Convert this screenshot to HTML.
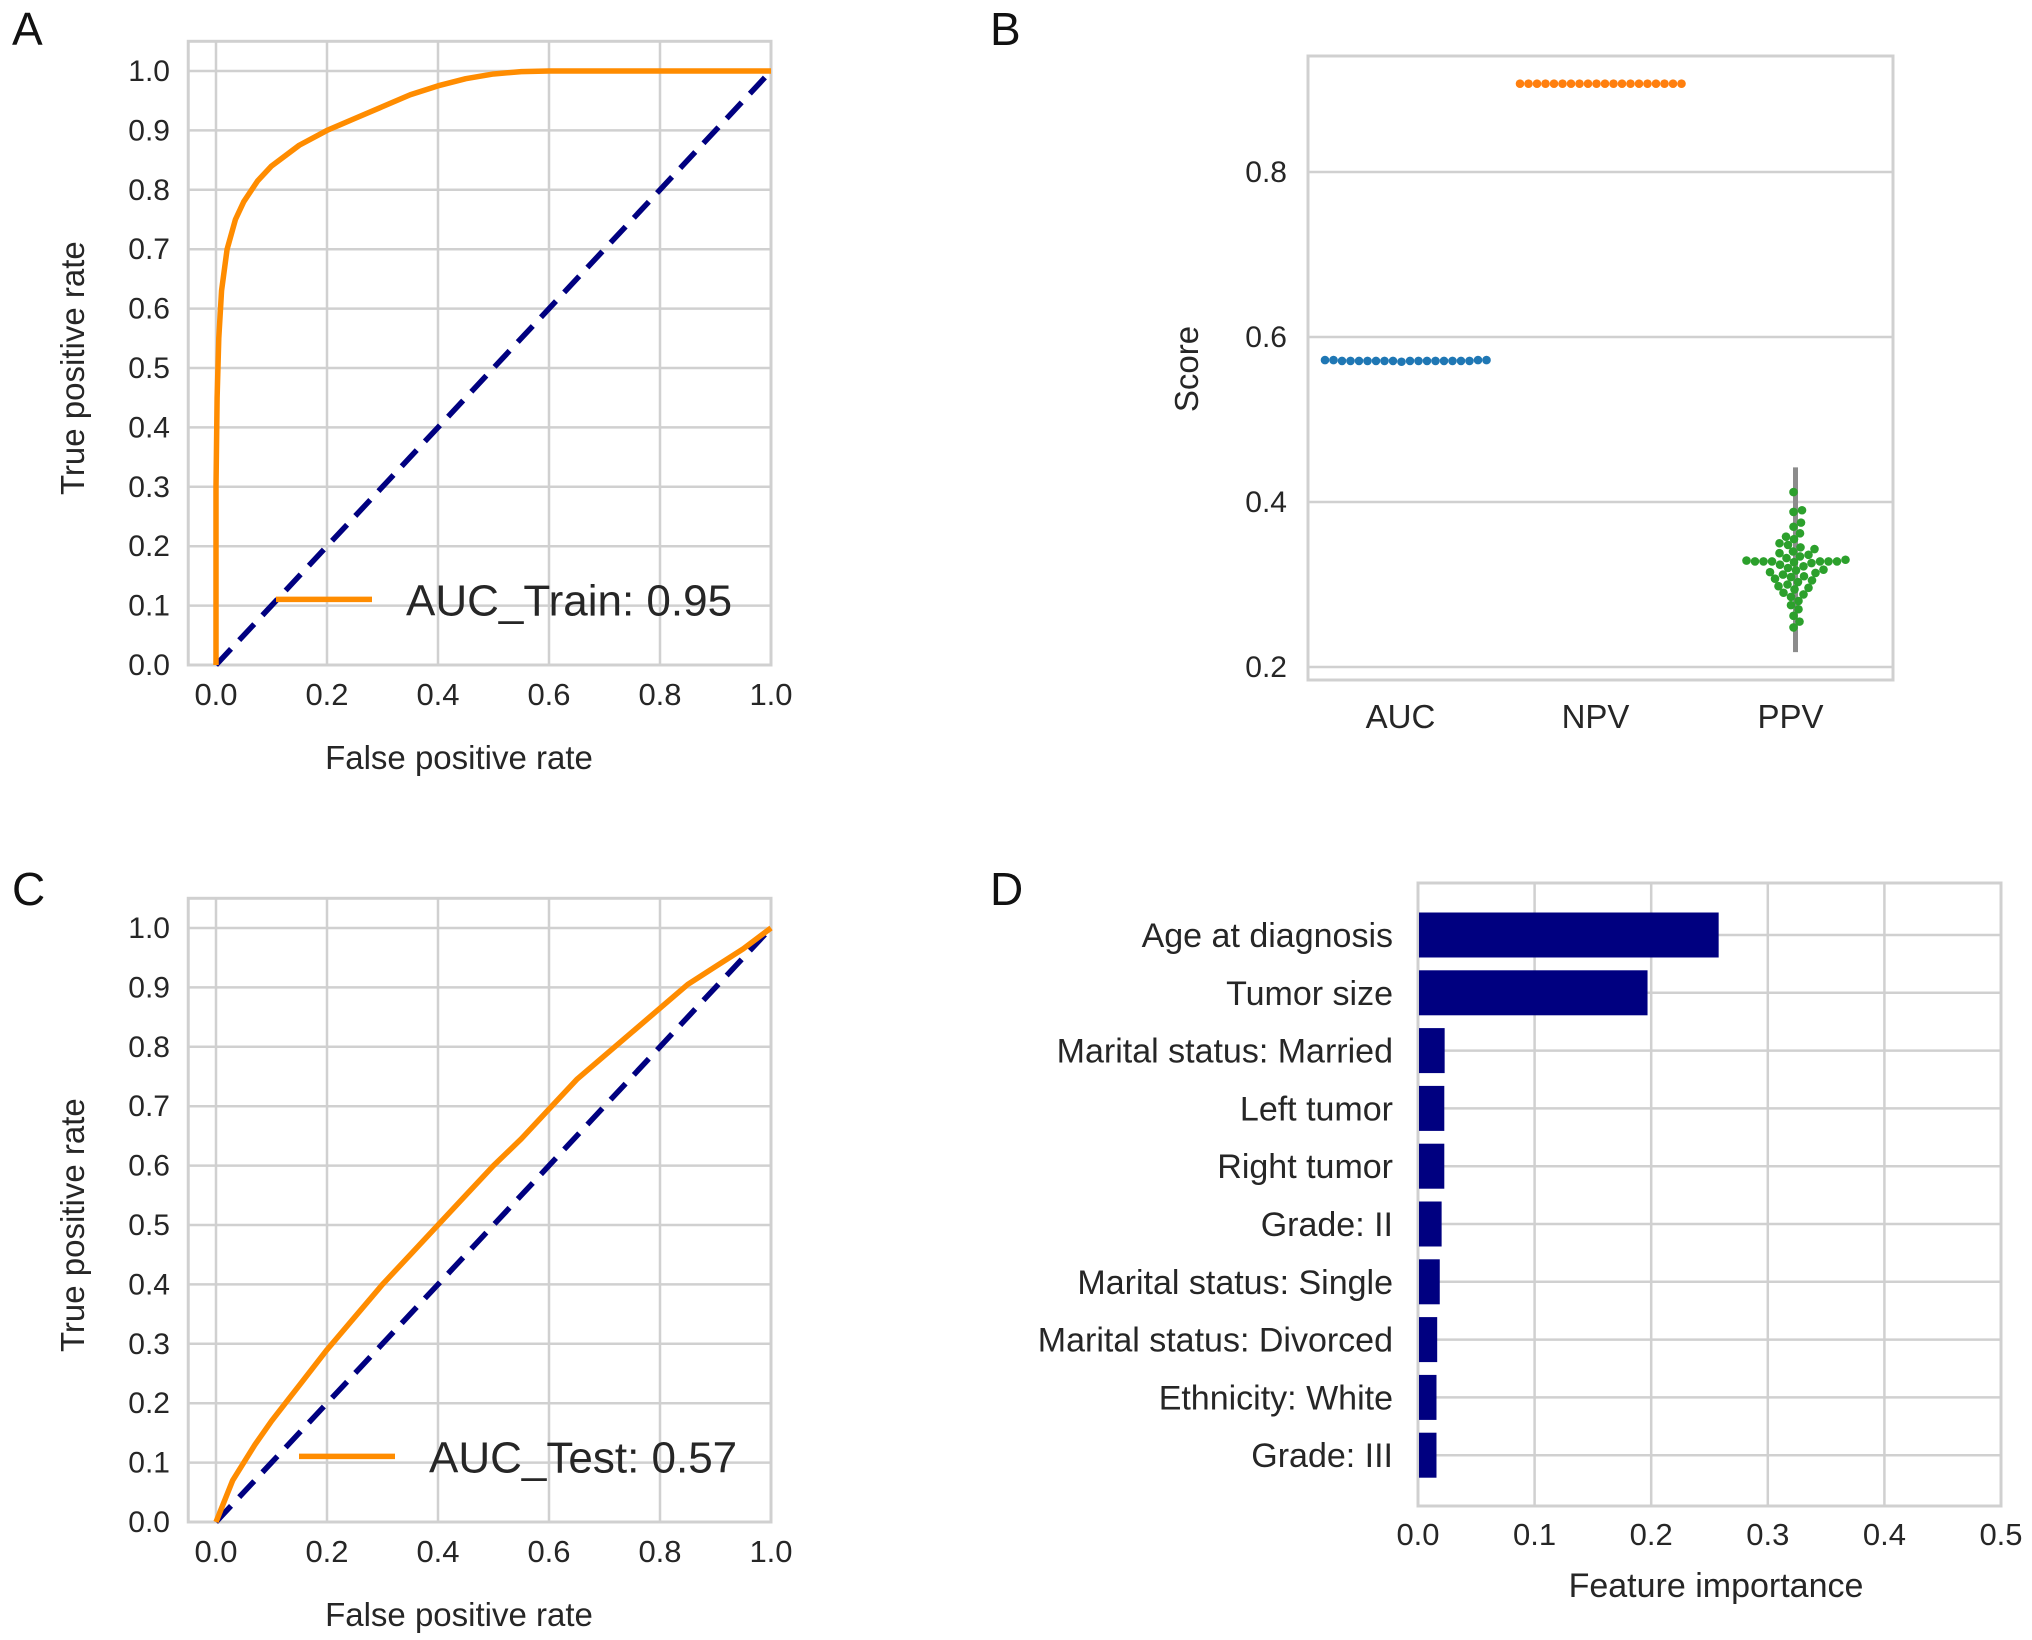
<!DOCTYPE html>
<html><head><meta charset="utf-8"><style>
html,body{margin:0;padding:0;background:#fff;}
svg{display:block;font-family:"Liberation Sans",Arial,sans-serif;}
</style></head><body>
<svg id="fig" width="2032" height="1640" viewBox="0 0 2032 1640" xmlns="http://www.w3.org/2000/svg">
<rect width="2032" height="1640" fill="#fff"/>
</svg>
<script>
// ---- Panel A data
const trainFpr=[0,0,0.002,0.005,0.01,0.02,0.035,0.05,0.075,0.1,0.15,0.2,0.25,0.3,0.35,0.4,0.45,0.5,0.55,0.6,1.0];
const trainTpr=[0,0.3,0.45,0.55,0.63,0.7,0.75,0.78,0.815,0.84,0.875,0.9,0.92,0.94,0.96,0.975,0.987,0.995,0.999,1.0,1.0];
// ---- Panel C data
const testFpr=[0,0.03,0.07,0.1,0.15,0.2,0.25,0.3,0.35,0.4,0.45,0.5,0.55,0.6,0.65,0.7,0.75,0.8,0.85,0.9,0.95,1.0];
const testTpr=[0,0.07,0.13,0.17,0.23,0.29,0.345,0.4,0.45,0.5,0.55,0.6,0.645,0.695,0.745,0.785,0.825,0.865,0.905,0.935,0.965,1.0];
const rocTicks=["0.0","0.1","0.2","0.3","0.4","0.5","0.6","0.7","0.8","0.9","1.0"];
const rocXTicks=["0.0","0.2","0.4","0.6","0.8","1.0"];
// ---- Panel B data
const scoreCats=["AUC","NPV","PPV"];
const aucScores=[0.572,0.572,0.571,0.571,0.571,0.571,0.571,0.571,0.571,0.570,0.571,0.571,0.571,0.571,0.571,0.571,0.571,0.571,0.572,0.572];
const npvScores=[0.907,0.907,0.907,0.907,0.907,0.907,0.907,0.907,0.907,0.907,0.907,0.907,0.907,0.907,0.907,0.907,0.907,0.907,0.907,0.907];
const ppvScores=[0.412,0.39,0.388,0.375,0.37,0.362,0.358,0.355,0.35,0.348,0.345,0.343,0.34,0.338,0.336,0.334,0.332,0.33,0.329,0.328,0.328,0.328,0.328,0.328,0.328,0.327,0.326,0.324,0.322,0.32,0.318,0.317,0.315,0.314,0.312,0.31,0.309,0.307,0.305,0.303,0.30,0.298,0.296,0.294,0.29,0.288,0.285,0.28,0.275,0.27,0.262,0.255,0.248];
const ppvWhisker=[0.218,0.442];
const scoreTicks=["0.2","0.4","0.6","0.8"];
// ---- Panel D data
const features=["Age at diagnosis","Tumor size","Marital status: Married","Left tumor","Right tumor","Grade: II","Marital status: Single","Marital status: Divorced","Ethnicity: White","Grade: III"];
const importances=[0.257,0.196,0.022,0.0217,0.0217,0.0194,0.0178,0.0156,0.015,0.015];
const impTicks=["0.0","0.1","0.2","0.3","0.4","0.5"];

const NS="http://www.w3.org/2000/svg";
const svg=document.getElementById('fig');
function mk(tag,attrs,parent){const e=document.createElementNS(NS,tag);for(const k in attrs)e.setAttribute(k,attrs[k]);(parent||svg).appendChild(e);return e;}
function txt(s,attrs,parent){const e=mk('text',attrs,parent);e.textContent=s;return e;}
const GRID="#d0d0d0", TXT="#262626";

function panelLetter(s,x,y){const t=txt(s,{x:x,y:y,'font-size':46,fill:'#111'});

}
panelLetter('A',12,45);panelLetter('B',990,45);panelLetter('C',12,905);panelLetter('D',990,905);

function rocPanel(id,top,fpr,tpr,legendText){
  const g=mk('g',{});
  
  
  const x0=216,x1=771,y0=top+624,y1=top+30;
  const sx=v=>x0+(x1-x0)*v, sy=v=>y0-(y0-y1)*v;
  const L=sx(-0.05),R=sx(1.0),T=sy(1.05),B=sy(0);
  rocTicks.forEach((t,i)=>{const v=i/10;const y=sy(v);
    const l=mk('line',{x1:L,x2:R,y1:y,y2:y,stroke:GRID,'stroke-width':2.5},g);
    
    const tt=txt(t,{x:170,y:y+10,'font-size':30,'text-anchor':'end',fill:TXT},g);
    });
  rocXTicks.forEach((t,i)=>{const v=i*0.2;const x=sx(v);
    const l=mk('line',{x1:x,x2:x,y1:T,y2:B,stroke:GRID,'stroke-width':2.5},g);
    
    const tt=txt(t,{x:x,y:B+40,'font-size':31,'text-anchor':'middle',fill:TXT},g);
    });
  const fr=mk('rect',{x:L,y:T,width:R-L,height:B-T,fill:'none',stroke:GRID,'stroke-width':3},g);
  
  const d=mk('line',{x1:sx(0),y1:sy(0),x2:sx(1),y2:sy(1),stroke:'#000080','stroke-width':5.5,'stroke-dasharray':'22,12'},g);
  
  const p=mk('polyline',{points:fpr.map((f,i)=>sx(f)+','+sy(tpr[i])).join(' '),fill:'none',stroke:'#ff8c00','stroke-width':5.5,'stroke-linejoin':'round'},g);
  
  const lg=mk('g',{},g);
  
  const ly=sy(0.097)-8;
  const lx=legendText.indexOf('Train')>=0?276:299;
  mk('line',{x1:lx,x2:lx+96,y1:ly,y2:ly,stroke:'#ff8c00','stroke-width':5.5},lg);
  txt(legendText,{x:lx+130,y:ly+16,'font-size':44,fill:TXT},lg);
  const xt=txt('False positive rate',{x:459,y:B+104,'font-size':33,'text-anchor':'middle',fill:TXT},g);
  
  const cy=(T+B)/2+15;
  const yt=txt('True positive rate',{x:84,y:cy,'font-size':33,'text-anchor':'middle',fill:TXT,transform:'rotate(-90 84 '+cy+')'},g);
  
}
rocPanel('roc-train-chart',41,trainFpr,trainTpr,'AUC_Train: 0.95');
rocPanel('roc-test-chart',898,testFpr,testTpr,'AUC_Test: 0.57');

// ---- Panel B
(function(){
  const g=mk('g',{});
  
  
  const L=1308,R=1893,T=56,B=680;
  const sy=v=>337-(v-0.6)*825;
  const sx=i=>L+(R-L)*(i+0.5)/3;
  scoreTicks.forEach(t=>{const y=sy(parseFloat(t));
    const l=mk('line',{x1:L,x2:R,y1:y,y2:y,stroke:GRID,'stroke-width':2.5},g);
    
    const tt=txt(t,{x:1287,y:y+10,'font-size':30,'text-anchor':'end',fill:TXT},g);
    });
  const fr=mk('rect',{x:L,y:T,width:R-L,height:B-T,fill:'none',stroke:GRID,'stroke-width':3},g);
  
  scoreCats.forEach((c,i)=>{const tt=txt(c,{x:sx(i)-5,y:728,'font-size':33,'text-anchor':'middle',fill:TXT},g);
    });
  const yt=txt('Score',{x:1198,y:369,'font-size':33,'text-anchor':'middle',fill:TXT,transform:'rotate(-90 1198 369)'},g);
  
  const wl=mk('line',{x1:sx(2),x2:sx(2),y1:sy(ppvWhisker[0]),y2:sy(ppvWhisker[1]),stroke:'#8c8c8c','stroke-width':5},g);
  
  const D=8.2,r=4.3;
  function swarm(vals,i,color,name,shift){
    const cx=sx(i)+shift;const placed=[];
    const order=vals.map((v,k)=>k).sort((a,b)=>vals[a]-vals[b]);
    order.forEach(k=>{const y=sy(vals[k]);let x=cx;
      for(let s=0;s<400;s++){const off=(s%2?1:-1)*Math.ceil(s/2)*0.5;x=cx+off;
        if(placed.every(p=>Math.hypot(p[0]-x,p[1]-y)>=D))break;}
      placed.push([x,y]);
      const c=mk('circle',{cx:x,cy:y,r:r,fill:color},g);
      
      });
  }
  swarm(aucScores,0,'#1f77b4','auc-point',-4);
  swarm(npvScores,1,'#ff7f0e','npv-point',-4);
  swarm(ppvScores,2,'#2ca02c','ppv-point',-2);
})();

// ---- Panel D
(function(){
  const g=mk('g',{});
  
  
  const L=1418,R=2001,T=883,B=1506;
  const sx=v=>L+(R-L)*v/0.5;
  const step=57.8, first=935;
  const sy=i=>first+i*step;
  impTicks.forEach(t=>{const x=sx(parseFloat(t));
    const l=mk('line',{x1:x,x2:x,y1:T,y2:B,stroke:GRID,'stroke-width':2.5},g);
    
    const tt=txt(t,{x:x,y:1545,'font-size':31,'text-anchor':'middle',fill:TXT},g);
    });
  features.forEach((f,i)=>{const y=sy(i);
    const l=mk('line',{x1:L,x2:R,y1:y,y2:y,stroke:GRID,'stroke-width':2.5},g);
    });
  const fr=mk('rect',{x:L,y:T,width:R-L,height:B-T,fill:'none',stroke:GRID,'stroke-width':3},g);
  
  features.forEach((f,i)=>{const y=sy(i);
    const b=mk('rect',{x:sx(0)+1,y:y-22.5,width:sx(importances[i])-sx(0),height:45,fill:'#000080'},g);
    
    const tt=txt(f,{x:1393,y:y+12,'font-size':34,'text-anchor':'end',fill:TXT},g);
    });
  const xt=txt('Feature importance',{x:1716,y:1597,'font-size':34,'text-anchor':'middle',fill:TXT},g);
  
})();
</script>
</body></html>
